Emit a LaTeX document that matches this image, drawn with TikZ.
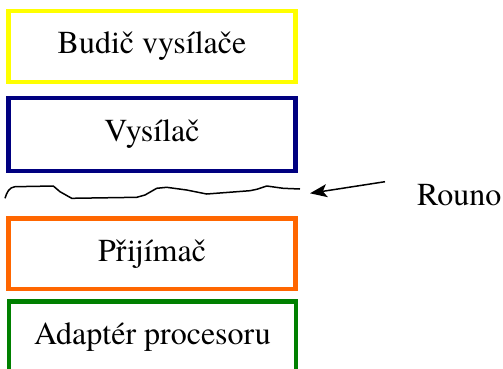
\documentclass[tikz,border=0pt]{standalone}
\usepackage{fontspec}
\newfontfamily\layerfont{texgyretermes-regular.otf}
\usetikzlibrary{arrows.meta}
\definecolor{budic}{RGB}{255,255,0}
\definecolor{vysilac}{RGB}{0,0,128}
\definecolor{prijimac}{RGB}{255,102,0}
\definecolor{adapter}{RGB}{0,128,0}
\tikzset{
  layer/.style={draw, line width=4.2pt, fill=white, minimum width=287pt,
    inner sep=0pt, font=\layerfont\fontsize{32}{36}\selectfont},
  fleece/.style={line width=1.5pt, line join=round},
  pointer/.style={line width=1.5pt, -{Stealth[length=17pt,width=13pt,inset=4pt]}},
  caption/.style={font=\layerfont\fontsize{32}{36}\selectfont, inner sep=0pt}
}
\begin{document}
\begin{tikzpicture}[x=1pt,y=-1pt]
  \useasboundingbox (0,0) rectangle (503,368);
  \clip (0,0) rectangle (503,368);
  % stacked layers
  \node[layer, draw=budic, minimum height=71pt] (budic) at (152,46.5) {Budič vysílače};
  \node[layer, draw=vysilac, minimum height=73pt] (vysilac) at (152,134.5) {Vysílač};
  \node[layer, draw=prijimac, minimum height=70.5pt] (prijimac) at (152,253.75) {Přijímač};
  \node[layer, draw=adapter, minimum height=72pt] (adapter) at (152.5,337.5) {Adaptér procesoru};
  % fleece boundary
  \coordinate (f0) at (5,198.3);
  \coordinate (fend) at (300,189);
  \draw[fleece] (f0) .. controls (7,192) and (9,187.5) .. (15,186.7) -- (53.3,186) -- (60,191.7) -- (71.7,198.3)
    -- (136.7,197.3) -- (145,195) -- (156.7,188.3) -- (166.7,187.3) -- (186.7,190)
    -- (206.7,194) -- (250,190.7) -- (256.7,189.3) -- (266.7,186) -- (283.3,188.3)
    -- (fend);
  % label and pointer
  \node[caption, anchor=base west] (rouno) at (417,205) {Rouno};
  \coordinate (tail) at (385,181.7);
  \coordinate (tip) at (310,193.3);
  \draw[pointer] (tail) -- (tip);
\end{tikzpicture}
\end{document}
